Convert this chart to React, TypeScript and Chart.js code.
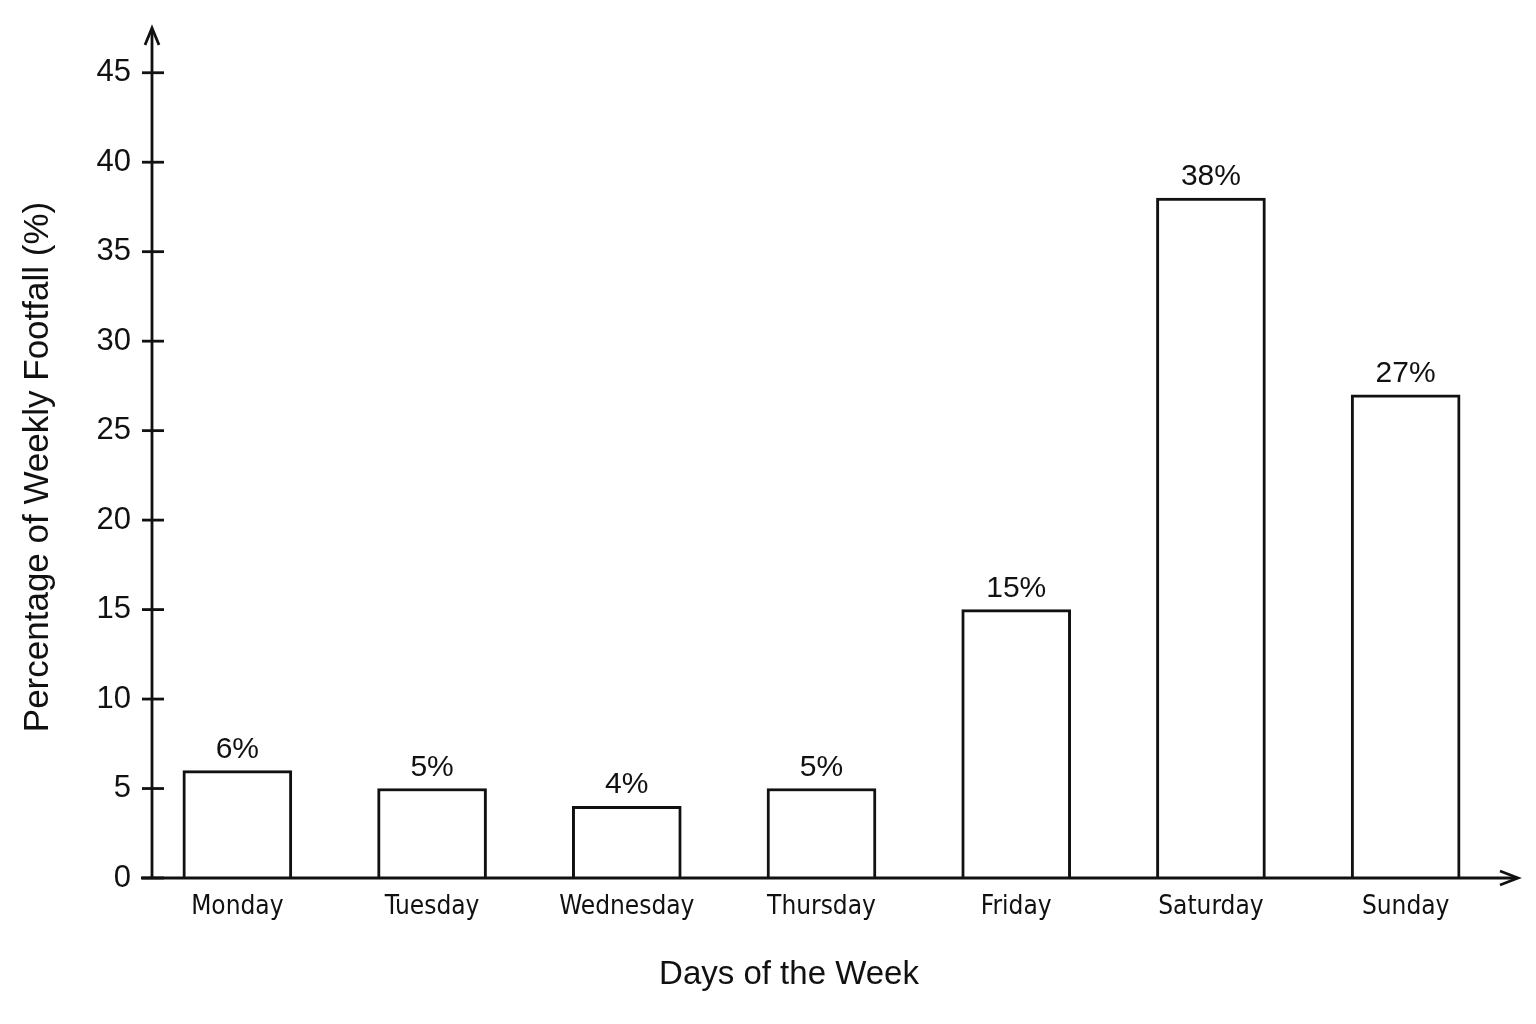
import React, { useEffect, useRef } from 'react';
import { Chart, registerables } from 'chart.js';

Chart.register(...registerables);

// Data
const days = ['Monday', 'Tuesday', 'Wednesday', 'Thursday', 'Friday', 'Saturday', 'Sunday'];
const footfallShare = [6, 5, 4, 5, 15, 38, 27];
const yTicks = [0, 5, 10, 15, 20, 25, 30, 35, 40, 45];

const INK = '#111111';
const SANS = '"Liberation Sans", Arial, Helvetica, sans-serif';
const NARROW = '"DejaVu Sans Condensed", "Liberation Sans Narrow", "Liberation Sans", sans-serif';

// axes with arrow heads, crossing tick marks, value labels and axis titles
const decorPlugin = {
  id: 'decor',
  afterDatasetsDraw(chart: any) {
    const { ctx, chartArea, scales } = chart;
    const y = scales.y;
    const base = y.getPixelForValue(0);
    const axisX = chartArea.left + 12;
    const top = chartArea.top;
    const tipX = chartArea.right + 15;

    ctx.save();
    ctx.strokeStyle = INK;
    ctx.lineWidth = 2.8;

    // y axis + arrow
    ctx.beginPath();
    ctx.moveTo(axisX, base + 1);
    ctx.lineTo(axisX, top + 1);
    ctx.stroke();
    ctx.beginPath();
    ctx.moveTo(axisX - 7, top + 17);
    ctx.lineTo(axisX, top);
    ctx.lineTo(axisX + 7, top + 17);
    ctx.stroke();

    // tick marks crossing the y axis
    y.ticks.forEach((t: any) => {
      const py = y.getPixelForValue(t.value);
      ctx.beginPath();
      ctx.moveTo(axisX - 10, py);
      ctx.lineTo(axisX + 12, py);
      ctx.stroke();
    });

    // x axis + arrow
    ctx.beginPath();
    ctx.moveTo(chartArea.left + 1, base);
    ctx.lineTo(tipX - 1, base);
    ctx.stroke();
    ctx.beginPath();
    ctx.moveTo(tipX - 18, base - 7);
    ctx.lineTo(tipX, base);
    ctx.lineTo(tipX - 18, base + 7);
    ctx.stroke();

    // value labels above bars
    ctx.fillStyle = INK;
    ctx.font = `30px ${SANS}`;
    ctx.textAlign = 'center';
    ctx.textBaseline = 'alphabetic';
    const meta = chart.getDatasetMeta(0);
    meta.data.forEach((bar: any, i: number) => {
      const { x, y: barTop } = bar.getProps(['x', 'y'], true);
      ctx.fillText(`${footfallShare[i]}%`, x, barTop - 13);
    });

    // axis titles
    ctx.font = `33px ${SANS}`;
    ctx.textBaseline = 'middle';
    ctx.fillText('Days of the Week', 789, 975);

    ctx.translate(38, 467);
    ctx.rotate(-Math.PI / 2);
    ctx.font = `35px ${SANS}`;
    ctx.fillText('Percentage of Weekly Footfall (%)', 0, 0);
    ctx.restore();
  },
};

const App: React.FC = () => {
  const canvasRef = useRef<HTMLCanvasElement | null>(null);
  const chartRef = useRef<Chart | null>(null);

  useEffect(() => {
    if (!canvasRef.current) return;
    if (chartRef.current) chartRef.current.destroy();

    chartRef.current = new Chart(canvasRef.current, {
      type: 'bar',
      data: {
        labels: days,
        datasets: [
          {
            label: 'Percentage of Weekly Footfall',
            data: footfallShare,
            backgroundColor: '#ffffff',
            borderColor: INK,
            borderWidth: 3,
            borderSkipped: 'bottom',
            barThickness: 109,
          },
        ],
      },
      options: {
        animation: false,
        responsive: true,
        maintainAspectRatio: false,
        layout: { padding: { left: 0, right: 33, top: 28, bottom: 0 } },
        plugins: {
          legend: { display: false },
          tooltip: { enabled: false },
        },
        scales: {
          x: {
            grid: { display: false, drawTicks: false },
            border: { display: false },
            ticks: {
              color: INK,
              font: { family: NARROW, size: 26 },
              padding: 14,
              maxRotation: 0,
            },
            afterFit: (scale: any) => {
              scale.height = 146;
            },
          },
          y: {
            min: 0,
            max: 47.5,
            grid: { display: false, drawTicks: false },
            border: { display: false },
            ticks: {
              color: INK,
              font: { family: SANS, size: 31 },
              padding: 9,
            },
            afterBuildTicks: (scale: any) => {
              scale.ticks = yTicks.map((v) => ({ value: v }));
            },
            afterFit: (scale: any) => {
              scale.width = 140;
            },
          },
        },
      },
      plugins: [decorPlugin],
    });

    return () => {
      if (chartRef.current) {
        chartRef.current.destroy();
        chartRef.current = null;
      }
    };
  }, []);

  return (
    <div style={{ position: 'absolute', left: 0, top: 0, width: 1536, height: 1024, background: '#fff' }}>
      <canvas ref={canvasRef}></canvas>
    </div>
  );
};

export default App;
